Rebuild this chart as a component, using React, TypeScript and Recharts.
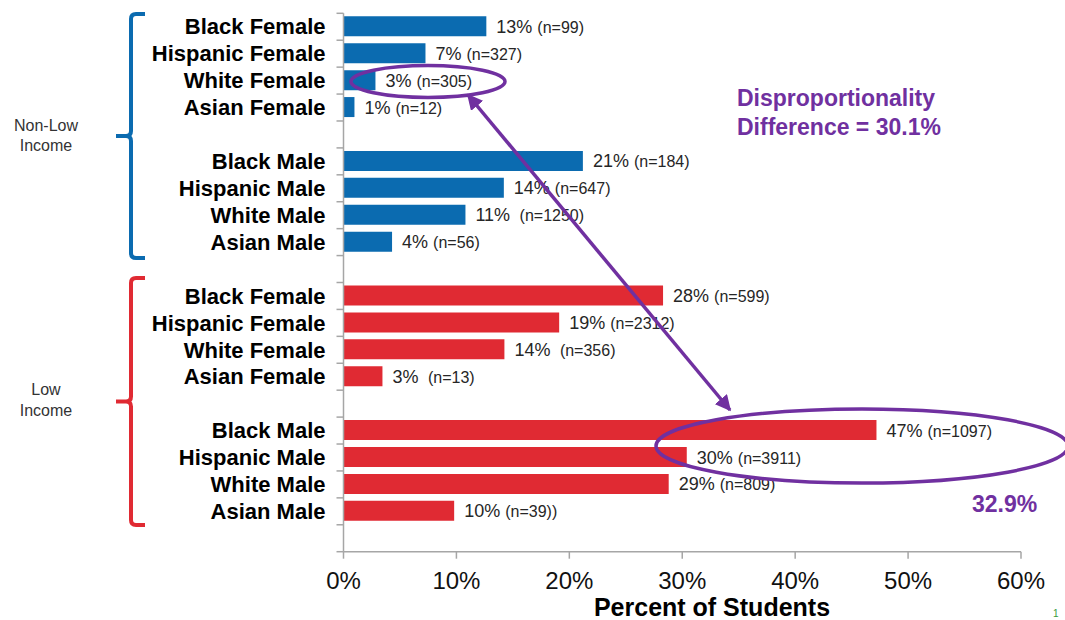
import React from "react";
import { BarChart, Bar, XAxis, YAxis, Cell, LabelList } from "recharts";

// group labels, bar values (%), and the text shown next to each bar
const groupLabels = ["Black Female", "Hispanic Female", "White Female", "Asian Female", "Black Male", "Hispanic Male", "White Male", "Asian Male"];

const nonLowValues = [12.65, 7.26, 2.83, 0.97, 21.2, 14.2, 10.8, 4.3];
const nonLowPct = ["13%", "7%", "3%", "1%", "21%", "14%", "11%", "4%"];
const nonLowN = ["(n=99)", "(n=327)", "(n=305)", "(n=12)", "(n=184)", "(n=647)", " (n=1250)", "(n=56)"];

const lowValues = [28.3, 19.1, 14.25, 3.45, 47.2, 30.4, 28.8, 9.8];
const lowPct = ["28%", "19%", "14%", "3%", "47%", "30%", "29%", "10%"];
const lowN = ["(n=599)", "(n=2312)", " (n=356)", " (n=13)", "(n=1097)", "(n=3911)", "(n=809)", "(n=39))"];

const xTicks = [0, 10, 20, 30, 40, 50, 60];

const W = 1065;
const H = 620;
const TOP = 13.3;
const BOTTOM = 68.3;
const RIGHT = 44;
const AXIS_X = 343.5;
const FONT = "'Liberation Sans', Arial, Helvetica, sans-serif";
const BLUE = "#0B6BB0";
const RED = "#E02A33";
const PURPLE = "#7030A0";
const GRID = "#A6A6A6";

type Row = { id: string; label: string; value: number | null; pct: string; n: string; income: "non" | "low" | "" };

const rows: Row[] = [];
const addGroup = (income: "non" | "low", values: number[], pct: string[], n: string[]) => {
  [0, 1, 2, 3].forEach((i) => rows.push({ id: "", label: groupLabels[i], value: values[i], pct: pct[i], n: n[i], income }));
  rows.push({ id: "", label: "", value: null, pct: "", n: "", income: "" });
  [4, 5, 6, 7].forEach((i) => rows.push({ id: "", label: groupLabels[i], value: values[i], pct: pct[i], n: n[i], income }));
  rows.push({ id: "", label: "", value: null, pct: "", n: "", income: "" });
};
addGroup("non", nonLowValues, nonLowPct, nonLowN);
addGroup("low", lowValues, lowPct, lowN);
rows.forEach((r, i) => (r.id = "r" + i));

const BAND = (H - TOP - BOTTOM) / rows.length;

const CategoryTick = (props: any) => {
  const { x, y, payload } = props;
  const idx = rows.findIndex((r) => r.id === payload.value);
  const row = rows[idx];
  return (
    <g>
      <line x1={x - 7} x2={x} y1={y - BAND / 2} y2={y - BAND / 2} stroke={GRID} strokeWidth={1.5} />
      {idx === rows.length - 1 && (
        <line x1={x - 7} x2={x} y1={y + BAND / 2} y2={y + BAND / 2} stroke={GRID} strokeWidth={1.5} />
      )}
      <text x={x - 18} y={y} dy="0.35em" textAnchor="end" fontFamily={FONT} fontWeight="bold" fontSize={22} fill="#000">
        {row ? row.label : ""}
      </text>
    </g>
  );
};

const ValueLabel = (props: any) => {
  const { x, y, width, height, value } = props;
  const row = rows.find((r) => r.id === value);
  if (!row || row.value == null) return null;
  return (
    <text x={x + width + 10} y={y + height / 2 + 6.5} fontFamily={FONT} fill="#262626" style={{ whiteSpace: "pre" }}>
      <tspan fontSize={18}>{row.pct + " "}</tspan>
      <tspan fontSize={16}>{row.n}</tspan>
    </text>
  );
};

const Brace = ({ top, bottom, color }: { top: number; bottom: number; color: string }) => {
  const mid = (top + bottom) / 2;
  const d = `M145,${top} H136 Q131,${top} 131,${top + 5} V${mid - 5} Q131,${mid} 126,${mid} H116 M126,${mid} Q131,${mid} 131,${mid + 5} V${bottom - 5} Q131,${bottom} 136,${bottom} H145`;
  return <path d={d} fill="none" stroke={color} strokeWidth={4} strokeLinejoin="round" />;
};

export default function App() {
  return (
    <div style={{ position: "absolute", left: 0, top: 0, width: W, height: H, background: "#fff", fontFamily: FONT }}>
      <BarChart
        width={W}
        height={H}
        data={rows}
        layout="vertical"
        margin={{ top: TOP, right: RIGHT, bottom: 0, left: 0 }}
        barSize={20}
      >
        <XAxis
          type="number"
          domain={[0, 60]}
          ticks={xTicks}
          tickFormatter={(v) => `${v}%`}
          height={BOTTOM}
          axisLine={{ stroke: GRID, strokeWidth: 1.5 }}
          tickLine={{ stroke: GRID, strokeWidth: 1.5 }}
          tickSize={7}
          tickMargin={13}
          tick={{ fontSize: 24, fill: "#111", fontFamily: FONT }}
        />
        <YAxis
          type="category"
          dataKey="id"
          width={AXIS_X}
          interval={0}
          tickSize={0}
          tickMargin={0}
          tickLine={false}
          axisLine={{ stroke: GRID, strokeWidth: 1.5 }}
          tick={<CategoryTick />}
        />
        <Bar dataKey="value" isAnimationActive={false}>
          {rows.map((r, i) => (
            <Cell key={i} fill={r.income === "low" ? RED : BLUE} />
          ))}
          <LabelList dataKey="id" content={<ValueLabel />} />
        </Bar>
      </BarChart>

      <svg width={W} height={H} style={{ position: "absolute", left: 0, top: 0, pointerEvents: "none" }}>
        <defs>
          <marker id="head" viewBox="0 0 10 10" refX="9" refY="5" markerWidth="4.5" markerHeight="4.5" orient="auto-start-reverse">
            <path d="M0,0 L10,5 L0,10 z" fill={PURPLE} />
          </marker>
        </defs>

        <Brace top={14} bottom={258} color={BLUE} />
        <Brace top={278} bottom={525} color={RED} />
        <text x={46} y={130.5} textAnchor="middle" fontFamily={FONT} fontSize={16} fill="#333">Non-Low</text>
        <text x={46} y={151} textAnchor="middle" fontFamily={FONT} fontSize={16} fill="#333">Income</text>
        <text x={46} y={395} textAnchor="middle" fontFamily={FONT} fontSize={16} fill="#333">Low</text>
        <text x={46} y={415.5} textAnchor="middle" fontFamily={FONT} fontSize={16} fill="#333">Income</text>

        <ellipse cx={428} cy={81.5} rx={77} ry={16} fill="none" stroke={PURPLE} strokeWidth={3.5} />
        <ellipse cx={862} cy={446} rx={206} ry={37} fill="none" stroke={PURPLE} strokeWidth={3.5} />
        <line x1={468} y1={95} x2={730} y2={410} stroke={PURPLE} strokeWidth={3.5} markerStart="url(#head)" markerEnd="url(#head)" />

        <text x={737} y={106} fontFamily={FONT} fontWeight="bold" fontSize={23} fill={PURPLE}>Disproportionality</text>
        <text x={737} y={135} fontFamily={FONT} fontWeight="bold" fontSize={23} fill={PURPLE}>Difference = 30.1%</text>
        <text x={972} y={512} fontFamily={FONT} fontWeight="bold" fontSize={23} fill={PURPLE}>32.9%</text>

        <text x={712} y={616} textAnchor="middle" fontFamily={FONT} fontWeight="bold" fontSize={25} fill="#000">Percent of Students</text>
        <text x={1053} y={617} fontFamily={FONT} fontSize={10} fill="#3A9A3A">1</text>
      </svg>
    </div>
  );
}
